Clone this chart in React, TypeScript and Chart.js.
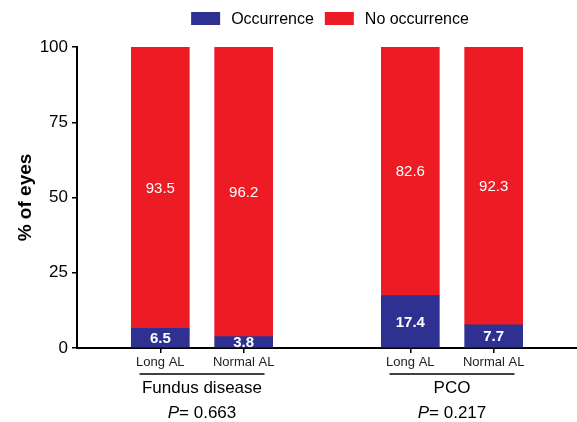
import React, { useEffect, useRef } from 'react';
import { Chart, registerables } from 'chart.js';

Chart.register(...registerables);

// ---- data ----
const positions = [1, 2, 4, 5];
const barLabels = ['Long AL', 'Normal AL', 'Long AL', 'Normal AL'];
const occurrence = [6.5, 3.8, 17.4, 7.7];
const noOccurrence = [93.5, 96.2, 82.6, 92.3];
const groupNames = ['Fundus disease', 'PCO'];
const groupCenters = [1.5, 4.5];
const pValues = ['0.663', '0.217'];
const seriesNames = ['Occurrence', 'No occurrence'];
const seriesColors = ['#2E3192', '#ED1C24'];
const yAxisTitle = '% of eyes';

const FONT = '"Liberation Sans", Arial, Helvetica, sans-serif';

const overlayPlugin = {
  id: 'overlay',
  afterDraw(chart: any) {
    const ctx: CanvasRenderingContext2D = chart.ctx;
    const xs = chart.scales.x;
    const area = chart.chartArea;
    ctx.save();

    // value labels inside segments
    chart.data.datasets.forEach((ds: any, di: number) => {
      const meta = chart.getDatasetMeta(di);
      meta.data.forEach((el: any, i: number) => {
        const p = el.getProps(['x', 'y', 'base'], true);
        ctx.fillStyle = '#ffffff';
        ctx.font = di === 0 ? `bold 15px ${FONT}` : `15px ${FONT}`;
        ctx.textAlign = 'center';
        ctx.textBaseline = 'middle';
        const v = ds.data[i].y;
        ctx.fillText(v.toFixed(1), p.x, (p.y + p.base) / 2 + 1);
      });
    });

    // group lines, names, p-values
    ctx.strokeStyle = '#000';
    ctx.lineWidth = 1.5;
    ctx.fillStyle = '#000';
    groupCenters.forEach((c, gi) => {
      const x0 = xs.getPixelForValue(c - 0.75);
      const x1 = xs.getPixelForValue(c + 0.75);
      const cx = xs.getPixelForValue(c);
      ctx.beginPath();
      ctx.moveTo(x0, 374);
      ctx.lineTo(x1, 374);
      ctx.stroke();
      ctx.font = `17px ${FONT}`;
      ctx.textAlign = 'center';
      ctx.textBaseline = 'middle';
      ctx.fillText(groupNames[gi], cx, 388);

      // P= value
      const rest = '= ' + pValues[gi];
      ctx.font = `italic 17px ${FONT}`;
      const wP = ctx.measureText('P').width;
      ctx.font = `17px ${FONT}`;
      const wR = ctx.measureText(rest).width;
      const start = cx - (wP + wR) / 2;
      ctx.textAlign = 'left';
      ctx.font = `italic 17px ${FONT}`;
      ctx.fillText('P', start, 413);
      ctx.font = `17px ${FONT}`;
      ctx.fillText(rest, start + wP, 413);
    });

    // legend
    ctx.font = `16px ${FONT}`;
    ctx.textBaseline = 'middle';
    ctx.textAlign = 'left';
    const boxW = 29, boxH = 13, gapText = 11, gapItem = 11;
    const widths = seriesNames.map((n) => ctx.measureText(n).width);
    const total = widths.reduce((s, w) => s + boxW + gapText + w, 0) + gapItem * (seriesNames.length - 1);
    let lx = (area.left + area.right) / 2 + 3 - total / 2;
    const ly = 18.5;
    seriesNames.forEach((n, i) => {
      ctx.fillStyle = seriesColors[i];
      ctx.fillRect(lx, ly - boxH / 2, boxW, boxH);
      lx += boxW + gapText;
      ctx.fillStyle = '#000';
      ctx.fillText(n, lx, ly + 1);
      lx += widths[i] + gapItem;
    });

    ctx.restore();
  },
};

export default function App() {
  const ref = useRef<HTMLCanvasElement>(null);

  useEffect(() => {
    const canvas = ref.current;
    if (!canvas) return;
    const chart = new Chart(canvas, {
      type: 'bar',
      data: {
        datasets: [
          {
            label: seriesNames[0],
            data: positions.map((x, i) => ({ x, y: occurrence[i] })),
            backgroundColor: seriesColors[0],
            borderWidth: 0,
            barThickness: 58,
          },
          {
            label: seriesNames[1],
            data: positions.map((x, i) => ({ x, y: noOccurrence[i] })),
            backgroundColor: seriesColors[1],
            borderWidth: 0,
            barThickness: 58,
          },
        ],
      },
      options: {
        responsive: false,
        animation: false,
        layout: { padding: { top: 47, left: 0, right: 0, bottom: 0 } },
        plugins: {
          legend: { display: false },
          tooltip: { enabled: false },
        },
        scales: {
          x: {
            type: 'linear',
            stacked: true,
            offset: false,
            min: 0,
            max: 6,
            grid: {
              offset: false,
              drawOnChartArea: false,
              drawTicks: true,
              tickLength: 5,
              color: '#000',
              lineWidth: 1.5,
            },
            border: { display: true, color: '#000', width: 2 },
            afterBuildTicks: (scale: any) => {
              scale.ticks = positions.map((v) => ({ value: v }));
            },
            afterFit: (scale: any) => {
              scale.height = 74;
            },
            ticks: {
              autoSkip: false,
              maxRotation: 0,
              padding: 2,
              color: '#222',
              font: { family: FONT, size: 13 },
              callback: (v: any) => {
                const i = positions.indexOf(Number(v));
                return i >= 0 ? barLabels[i] : '';
              },
            },
          },
          y: {
            stacked: true,
            min: 0,
            max: 100,
            grid: {
              drawOnChartArea: false,
              drawTicks: true,
              tickLength: 5,
              color: '#000',
              lineWidth: 1.5,
            },
            border: { display: true, color: '#000', width: 2 },
            afterFit: (scale: any) => {
              scale.width = 77;
            },
            ticks: {
              stepSize: 25,
              padding: 4,
              color: '#000',
              font: { family: FONT, size: 17 },
            },
            title: {
              display: true,
              text: yAxisTitle,
              color: '#000',
              padding: { top: 14, bottom: 0 },
              font: { family: FONT, size: 19, weight: 'bold' },
            },
          },
        },
      },
      plugins: [overlayPlugin],
    } as any);
    return () => chart.destroy();
  }, []);

  return (
    <div style={{ position: 'absolute', left: 0, top: 0, width: 577, height: 422, background: '#fff' }}>
      <canvas ref={ref} width={577} height={422} style={{ width: 577, height: 422, display: 'block' }} />
    </div>
  );
}
